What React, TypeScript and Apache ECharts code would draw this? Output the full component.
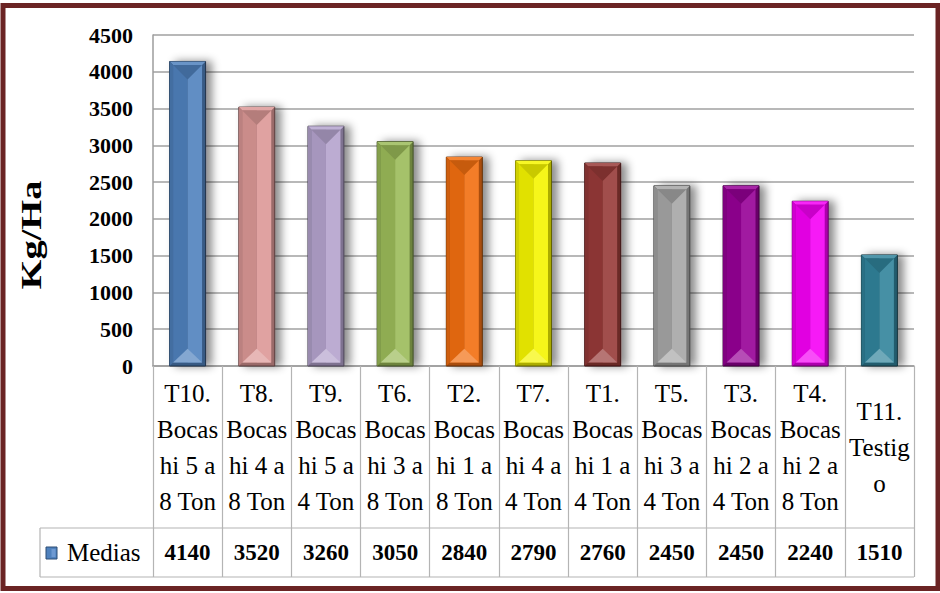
import React, { useEffect, useRef } from "react";
import * as echarts from "echarts";

const categories: string[] = [
  "T10.\nBocas\nhi 5 a\n8 Ton",
  "T8.\nBocas\nhi 4 a\n8 Ton",
  "T9.\nBocas\nhi 5 a\n4 Ton",
  "T6.\nBocas\nhi 3 a\n8 Ton",
  "T2.\nBocas\nhi 1 a\n8 Ton",
  "T7.\nBocas\nhi 4 a\n4 Ton",
  "T1.\nBocas\nhi 1 a\n4 Ton",
  "T5.\nBocas\nhi 3 a\n4 Ton",
  "T3.\nBocas\nhi 2 a\n4 Ton",
  "T4.\nBocas\nhi 2 a\n8 Ton",
  "T11.\nTestig\no",
];
const medias: number[] = [4140, 3520, 3260, 3050, 2840, 2790, 2760, 2450, 2450, 2240, 1510];
const barColors: string[] = [
  "#4f81bd", "#dc9896", "#b4a3cd", "#9bbb59", "#f26f10", "#f5f500",
  "#973a38", "#a6a6a6", "#960096", "#f500f5", "#31849b",
];
const yTicks = { min: 0, max: 4500, interval: 500 };
const seriesName = "Medias";
const yTitle = "Kg/Ha";

const W = 940, H = 593;
const GL = 153, GR = 26, GT = 35, GB = 227;
const TABLE_LEFT = 40, ROW1_BOTTOM = 528, ROW2_BOTTOM = 577;
const FONT = "'Liberation Serif', 'Times New Roman', serif";
const LINE = "#b4b4b4";

function mix(hex: string, target: number, amt: number): string {
  const n = parseInt(hex.slice(1), 16);
  const ch = [(n >> 16) & 255, (n >> 8) & 255, n & 255].map((c) =>
    Math.round(c + (target - c) * amt)
  );
  return "rgb(" + ch.join(",") + ")";
}

export default function App() {
  const ref = useRef<HTMLDivElement>(null);
  useEffect(() => {
    if (!ref.current) return;
    const chart = echarts.init(ref.current, undefined, { renderer: "svg" });
    const plotRight = W - GR;
    const option: any = {
      animation: false,
      backgroundColor: "#ffffff",
      grid: { left: GL, right: GR, top: GT, bottom: GB },
      xAxis: [
        {
          type: "category",
          data: categories,
          position: "bottom",
          axisLine: { show: true, lineStyle: { color: "#9c9c9c", width: 1.5 } },
          axisTick: { show: true, length: ROW2_BOTTOM - (H - GB), lineStyle: { color: LINE, width: 1.2 } },
          axisLabel: {
            interval: 0,
            margin: (ROW1_BOTTOM - (H - GB)) / 2,
            verticalAlign: "middle",
            color: "#000",
            fontFamily: FONT,
            fontSize: 25,
            lineHeight: 36,
          },
          splitLine: { show: false },
        },
        {
          type: "category",
          data: medias.map(String),
          position: "bottom",
          offset: ROW1_BOTTOM - (H - GB),
          axisLine: { show: false },
          axisTick: { show: false },
          axisLabel: {
            interval: 0,
            margin: (ROW2_BOTTOM - ROW1_BOTTOM) / 2,
            verticalAlign: "middle",
            color: "#000",
            fontFamily: FONT,
            fontWeight: "bold",
            fontSize: 23,
          },
        },
      ],
      yAxis: {
        type: "value",
        min: yTicks.min,
        max: yTicks.max,
        interval: yTicks.interval,
        axisLine: { show: true, lineStyle: { color: "#9c9c9c", width: 1.5 } },
        axisTick: { show: false },
        axisLabel: {
          margin: 20,
          color: "#000",
          fontFamily: FONT,
          fontWeight: "bold",
          fontSize: 22,
          formatter: (v: number) => String(v),
        },
        splitLine: { show: true, lineStyle: { color: "#a0a0a0", width: 1.5 } },
      },
      series: [
        {
          type: "custom",
          name: seriesName,
          xAxisIndex: 0,
          yAxisIndex: 0,
          clip: false,
          data: medias.map((v, i) => [i, v]),
          encode: { x: 0, y: 1 },
          renderItem: (params: any, api: any) => {
            const idx = api.value(0);
            const val = api.value(1);
            const top = api.coord([idx, val]);
            const base = api.coord([idx, 0]);
            const bw = api.size([1, 0])[0] * 0.52;
            const xc = top[0];
            const x0 = xc - bw / 2, x1 = xc + bw / 2;
            const y0 = top[1], y1 = base[1];
            const c = barColors[idx % barColors.length];
            const b = 3.5;
            const ix0 = x0 + b, ix1 = x1 - b, iy0 = y0 + b, iy1 = y1 - b;
            const tri = (ix1 - ix0) / 2;
            return {
              type: "group",
              children: [
                {
                  type: "rect",
                  shape: { x: x0, y: y0, width: bw, height: y1 - y0 },
                  style: {
                    fill: mix(c, 0, 0.3),
                    stroke: mix(c, 0, 0.6),
                    lineWidth: 1,
                    shadowBlur: 8,
                    shadowOffsetX: 6,
                    shadowOffsetY: 0,
                    shadowColor: "rgba(0,0,0,0.45)",
                  },
                },
                {
                  type: "polygon",
                  shape: { points: [[x0, y0], [x1, y0], [ix1, iy0], [ix0, iy0]] },
                  style: { fill: mix(c, 255, 0.15) },
                },
                {
                  type: "polygon",
                  shape: { points: [[x0, y0], [ix0, iy0], [ix0, iy1], [x0, y1]] },
                  style: { fill: mix(c, 0, 0.15) },
                },
                {
                  type: "rect",
                  shape: { x: ix0, y: iy0, width: xc - ix0, height: iy1 - iy0 },
                  style: { fill: mix(c, 0, 0.08) },
                },
                {
                  type: "rect",
                  shape: { x: xc, y: iy0, width: ix1 - xc, height: iy1 - iy0 },
                  style: { fill: mix(c, 255, 0.1) },
                },
                {
                  type: "polygon",
                  shape: { points: [[ix0, iy0], [ix1, iy0], [xc, iy0 + tri]] },
                  style: { fill: mix(c, 0, 0.18) },
                },
                {
                  type: "polygon",
                  shape: { points: [[ix0, iy1], [ix1, iy1], [xc, iy1 - tri * 0.95]] },
                  style: { fill: mix(c, 255, 0.3) },
                },
              ],
            };
          },
        },
      ],
      graphic: [
        {
          type: "rect",
          silent: true,
          shape: { x: 3, y: 5.5, width: 935, height: 583 },
          style: { fill: "none", stroke: "#6b2424", lineWidth: 5 },
        },
        {
          type: "line",
          shape: { x1: TABLE_LEFT, y1: ROW1_BOTTOM, x2: plotRight, y2: ROW1_BOTTOM },
          style: { stroke: LINE, lineWidth: 1.2 },
        },
        {
          type: "line",
          shape: { x1: TABLE_LEFT, y1: ROW2_BOTTOM, x2: plotRight, y2: ROW2_BOTTOM },
          style: { stroke: LINE, lineWidth: 1.2 },
        },
        {
          type: "line",
          shape: { x1: TABLE_LEFT, y1: ROW1_BOTTOM, x2: TABLE_LEFT, y2: ROW2_BOTTOM },
          style: { stroke: LINE, lineWidth: 1.2 },
        },
        {
          type: "rect",
          shape: { x: 46, y: 547, width: 11, height: 12 },
          style: { fill: "#4f81bd", stroke: "#2c4d75", lineWidth: 1 },
        },
        {
          type: "rect",
          shape: { x: 51.5, y: 549, width: 4, height: 8 },
          style: { fill: "#6f9ad2" },
        },
        {
          type: "text",
          x: 67,
          y: 552,
          style: {
            text: seriesName,
            fill: "#000",
            font: "25px " + FONT,
            textAlign: "left",
            textVerticalAlign: "middle",
          },
        },
        {
          type: "text",
          x: 31,
          y: 235,
          rotation: Math.PI / 2,
          scaleX: 1.28,
          style: {
            text: yTitle,
            fill: "#000",
            font: "bold 30px " + FONT,
            textAlign: "center",
            textVerticalAlign: "middle",
          },
        },
      ],
    };
    chart.setOption(option);
    return () => chart.dispose();
  }, []);
  return (
    <div
      ref={ref}
      style={{ position: "fixed", left: 0, top: 0, width: W, height: H, background: "#fff" }}
    />
  );
}
